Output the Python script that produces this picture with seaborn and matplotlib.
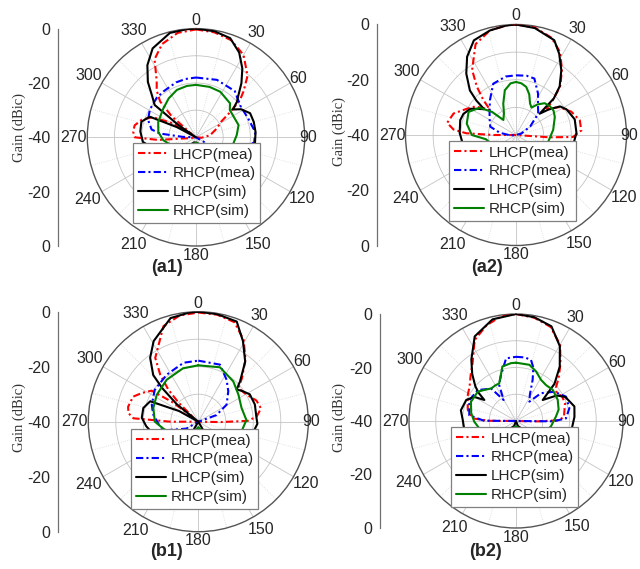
import numpy as np
import matplotlib
matplotlib.use("Agg")
import matplotlib.pyplot as plt
import seaborn as sns
from matplotlib.lines import Line2D

sns.set_style("white")
plt.rcParams["font.family"] = ["Liberation Sans", "DejaVu Sans"]

W, H = 640, 569

series_names = ["LHCP(mea)", "RHCP(mea)", "LHCP(sim)", "RHCP(sim)"]
angle_labels = ["0", "30", "60", "90", "120", "150", "180", "210", "240", "270", "300", "330"]
radial_tick_labels = ["0", "-20", "-40", "-20", "0"]

# ---------------- (a1) ----------------
a1_lhcp_mea_deg = [0, 10, 20, 30, 40, 46, 50, 54, 58, 67, 82, 95, 110, 140, 180, 220, 250, 262, 266, 270, 275, 281, 288, 295, 301, 306, 311, 315, 320, 325, 332, 340, 350, 360]
a1_lhcp_mea_db = [-0.3, -0.8, -2.0, -5.0, -10.5, -15.7, -19.0, -25.0, -29.0, -31.7, -34.8, -38.0, -40, -40, -40, -40, -40, -38, -26, -17.5, -16.8, -17.0, -19.0, -22.5, -30, -38, -28, -21.3, -17.5, -14.8, -7.5, -3.5, -1.0, -0.3]
a1_rhcp_mea_deg = [0, 20, 40, 55, 70, 85, 95, 105, 120, 150, 180, 210, 240, 260, 268, 272, 276, 280, 290, 301, 315, 325, 340, 350, 360]
a1_rhcp_mea_db = [-18.0, -17.5, -17.8, -20.0, -19.6, -18.1, -18.5, -23, -33, -40, -40, -40, -40, -40, -40, -35, -26.6, -23.4, -21.2, -20.2, -19.5, -19.3, -18.5, -18.2, -18.0]
a1_lhcp_sim_deg = [0, 10, 19, 27, 34, 40, 46, 49, 53, 58, 66, 75, 85, 95, 103, 110, 120, 140, 170, 200, 230, 250, 265, 276, 286, 294, 298, 302, 305, 308, 313, 319, 326, 334, 346, 355, 360]
a1_lhcp_sim_db = [0, -0.4, -1.4, -5.0, -9.5, -14, -18.5, -20, -23, -20.5, -18.2, -18.0, -18.0, -18.2, -18.3, -20, -23, -32, -38, -38, -32, -25, -20.4, -19.4, -19.1, -21.4, -32, -40, -32, -20.7, -18, -13, -8, -3.6, -0.4, -0.1, 0]
a1_rhcp_sim_deg = [0, 15, 28, 45, 51, 60, 74, 87, 105, 120, 150, 180, 210, 240, 255, 265, 278, 292, 311, 325, 338, 350, 360]
a1_rhcp_sim_db = [-20.7, -20.8, -21, -22.3, -24, -24.2, -23.7, -25, -26.3, -30, -37, -38, -37, -33, -30, -27.9, -26, -25, -24, -22.5, -21.2, -20.8, -20.7]

# ---------------- (a2) ----------------
a2_lhcp_mea_deg = [0, 10, 20, 28, 35, 42, 47, 50, 53, 57, 67, 77, 86, 92, 94, 97, 110, 150, 200, 250, 266, 270, 272, 275, 280, 289, 298, 305, 310, 314, 317, 321, 326, 336, 346, 355, 360]
a2_lhcp_mea_db = [0, -0.5, -2.5, -6, -11, -16, -22, -26, -24, -21.5, -18.3, -16.3, -16.3, -19.3, -28, -40, -40, -40, -40, -40, -40, -32, -22, -17.3, -14.7, -16.1, -19.8, -22, -25, -27, -22.7, -17.5, -11.6, -4, -1, -0.2, 0]
a2_rhcp_mea_deg = [0, 10, 18, 28, 36, 46, 59, 75, 90, 120, 180, 240, 265, 278, 288, 300, 310, 323, 336, 350, 360]
a2_rhcp_mea_db = [-18.4, -18.2, -18.5, -23, -26.5, -28.8, -34, -38, -40, -40, -40, -40, -38, -34, -30.2, -29, -27.5, -24.3, -19.7, -18.5, -18.4]
a2_lhcp_sim_deg = [0, 10, 22, 28, 35, 42, 46, 48, 52, 57, 63, 75, 88, 100, 110, 125, 150, 180, 210, 235, 250, 260, 272, 285, 292, 300, 305, 309, 311, 314, 321, 328, 336, 346, 355, 360]
a2_lhcp_sim_db = [0, -0.7, -3.0, -6.7, -11.4, -16.4, -21, -28.5, -25, -21, -19.5, -18, -18.1, -19, -21, -26, -33, -36, -33, -26, -22, -20.5, -19.6, -19.1, -19.5, -21, -23.5, -25.2, -21, -16.8, -11.4, -6.6, -2.5, -1, -0.2, 0]
a2_rhcp_sim_deg = [0, 6, 12, 18, 24, 29.5, 35, 42, 50, 57, 65, 82, 102, 120, 150, 180, 210, 240, 255, 262, 270, 283, 296, 307, 314, 320, 326, 331, 338, 346, 354, 360]
a2_rhcp_sim_db = [-20.8, -21.2, -22.2, -24.5, -27.5, -28.6, -26.5, -24.5, -23.9, -23.8, -24.5, -26.4, -28.1, -32, -37, -36, -37, -33, -30, -29, -24, -21.7, -20.9, -23.6, -28, -32.9, -32, -31, -27.7, -23.3, -21.2, -20.8]

# ---------------- (b1) ----------------
b1_lhcp_mea_deg = [0, 10, 20, 29, 37, 45, 50, 60, 70, 78, 85, 89, 91, 93, 120, 180, 240, 266, 270, 273, 277, 282, 291, 297, 303.6, 307, 310, 314, 317, 321, 326, 340, 350, 360]
b1_lhcp_mea_db = [-0.3, -0.5, -1.5, -6, -11.5, -17.5, -21, -20, -17.5, -16.7, -18.7, -22, -32, -40, -40, -40, -40, -40, -30, -16.4, -14.4, -13.9, -14.6, -17, -19.6, -28, -38, -30, -24, -18, -12, -3, -0.8, -0.3]
b1_rhcp_mea_deg = [0, 20.8, 34, 44.7, 59, 70, 85, 100, 150, 200, 240, 255, 262, 272, 279, 290, 306, 326, 346, 360]
b1_rhcp_mea_db = [-17.8, -17.8, -21.6, -24.5, -28, -33, -40, -40, -40, -40, -35, -28, -26, -24.8, -23.4, -22, -20.4, -19.4, -17.9, -17.8]
b1_lhcp_sim_deg = [0, 10, 21, 29, 38, 46, 50, 55, 62, 73, 86, 92, 105, 120, 150, 180, 210, 240, 255, 265, 274, 284, 293, 299, 304, 309, 313, 316, 323, 331, 345, 355, 360]
b1_lhcp_sim_db = [0, -0.3, -1, -6.5, -12.3, -18.9, -21.8, -20.5, -18.8, -18.5, -18.8, -18.5, -20, -24, -35, -40, -35, -27, -23, -21, -19.4, -19.4, -21, -32, -40, -30, -21.9, -16.4, -10.9, -6.5, -1, -0.2, 0]
b1_rhcp_sim_deg = [0, 21.7, 41, 56, 72.5, 88, 105, 120, 150, 180, 210, 240, 259, 270, 287, 303, 323, 344, 360]
b1_rhcp_sim_db = [-19.5, -18.7, -20.6, -22.4, -23.5, -22.5, -24, -28, -35, -38, -35, -30, -27, -24.2, -22.9, -22, -20.9, -19.8, -19.5]

# ---------------- (b2) ----------------
b2_lhcp_mea_deg = [0, 10, 20, 30, 38, 45, 50, 55, 62, 70, 77, 85, 89, 91, 93, 120, 180, 240, 268, 270.5, 273.5, 283, 293.5, 298.5, 306.5, 315, 323, 333, 343, 352, 360]
b2_lhcp_mea_db = [0, -0.8, -2.5, -7, -13, -17.5, -20.5, -21.5, -20.5, -20.5, -21.4, -22, -24, -32, -40, -40, -40, -40, -40, -30, -23.8, -21.5, -20.3, -19.5, -18.4, -16, -13, -6, -2.5, -0.5, 0]
b2_rhcp_mea_deg = [0, 8, 13.8, 18, 22, 28, 34.6, 42, 52.6, 64, 76.6, 87, 90.5, 92, 120, 180, 240, 268, 270.5, 277, 294, 309, 316, 322.6, 329.6, 335, 342, 351, 360]
b2_rhcp_mea_db = [-16, -16, -16.5, -19, -23.4, -29, -31.2, -26, -22, -19.2, -19.5, -21.3, -26, -40, -40, -40, -40, -40, -28, -22.4, -20.9, -21.6, -23.5, -24.7, -30.9, -25, -21.9, -16.3, -16]
b2_lhcp_sim_deg = [0, 10, 20.5, 30.4, 38.8, 46, 51.8, 58, 64, 76, 86, 100, 110, 130, 160, 180, 200, 230, 250, 262, 271, 281, 293, 300, 303.6, 307, 310.5, 317, 324, 334, 347, 360]
b2_lhcp_sim_db = [0, -0.6, -2.2, -7.6, -13.9, -20, -27.3, -22, -19.5, -17.5, -18.1, -19, -22, -30, -38, -40, -38, -30, -24, -20.4, -20.1, -19, -19.8, -22, -25.8, -22.5, -20, -16, -11.6, -4.8, -1, 0]
b2_rhcp_sim_deg = [0, 13.4, 22, 31.4, 40, 49.8, 63, 75, 83.8, 99, 115, 140, 180, 220, 245, 258.7, 269, 280, 293, 307.4, 315, 322.6, 330, 336, 346, 355, 360]
b2_rhcp_sim_db = [-18.2, -18.4, -20, -22, -22.5, -22, -22.5, -23.5, -25, -26.8, -29, -34, -38, -35, -29, -26, -24.4, -23, -21.7, -22, -23.5, -24.7, -24.6, -24.6, -19, -18.3, -18.2]

styles = [
    ("#ff0000", (0, (3.5, 1.5, 1.0, 1.5))),
    ("#0000ff", (0, (3.5, 1.5, 1.0, 1.5))),
    ("#000000", "-"),
    ("#008000", "-"),
]

# distance (px) of each angle label centre beyond the outer circle
label_gap_px = {"0": 8.5, "30": 12.5, "60": 9.5, "90": 3.0, "120": 14, "150": 15, "180": 9,
                "210": 15.5, "240": 16.5, "270": 13.5, "300": 15.5, "330": 15}

panels = [
    dict(tag="(a1)", cx=196, cy=137.3, R=108.7, axx=58, lab=(167.5, 267), ylab=(19, 127), leg=(133, 143),
         curves=[(a1_lhcp_mea_deg, a1_lhcp_mea_db), (a1_rhcp_mea_deg, a1_rhcp_mea_db),
                 (a1_lhcp_sim_deg, a1_lhcp_sim_db), (a1_rhcp_sim_deg, a1_rhcp_sim_db)]),
    dict(tag="(a2)", cx=516, cy=135, R=110.5, axx=377, lab=(486.7, 268), ylab=(339, 132), leg=(449, 141),
         curves=[(a2_lhcp_mea_deg, a2_lhcp_mea_db), (a2_rhcp_mea_deg, a2_rhcp_mea_db),
                 (a2_lhcp_sim_deg, a2_lhcp_sim_db), (a2_rhcp_sim_deg, a2_rhcp_sim_db)]),
    dict(tag="(b1)", cx=198.3, cy=421.7, R=110, axx=58, lab=(166.7, 552), ylab=(19, 418), leg=(131, 429),
         curves=[(b1_lhcp_mea_deg, b1_lhcp_mea_db), (b1_rhcp_mea_deg, b1_rhcp_mea_db),
                 (b1_lhcp_sim_deg, b1_lhcp_sim_db), (b1_rhcp_sim_deg, b1_rhcp_sim_db)]),
    dict(tag="(b2)", cx=516, cy=421, R=107, axx=380, lab=(486, 552), ylab=(339, 418), leg=(451, 427),
         curves=[(b2_lhcp_mea_deg, b2_lhcp_mea_db), (b2_rhcp_mea_deg, b2_rhcp_mea_db),
                 (b2_lhcp_sim_deg, b2_lhcp_sim_db), (b2_rhcp_sim_deg, b2_rhcp_sim_db)]),
]

fig = plt.figure(figsize=(W / 100, H / 100), dpi=100)

for p in panels:
    cx, cy, R = p["cx"], p["cy"], p["R"]
    ax = fig.add_axes([(cx - R) / W, (H - cy - R) / H, 2 * R / W, 2 * R / H], projection="polar")
    ax.set_theta_zero_location("N")
    ax.set_theta_direction(-1)
    ax.set_facecolor("white")

    # minor (15 deg) spokes, dotted
    for a in range(15, 360, 30):
        ax.plot([np.deg2rad(a)] * 2, [-40, 0], color="#d8d8d8", lw=0.6, ls=":", zorder=0.5)

    for (deg, db), (col, ls) in zip(p["curves"], styles):
        th = np.deg2rad(np.asarray(deg, dtype=float))
        r = np.clip(np.asarray(db, dtype=float), -40, 0)
        sns.lineplot(x=th, y=r, ax=ax, sort=False, estimator=None, color=col,
                     linewidth=1.5, linestyle=ls, zorder=3)

    ax.set_ylim(-40, 0)
    ax.set_xticks(np.deg2rad(np.arange(0, 360, 30)))
    ax.set_xticklabels([])
    ax.set_yticks([-30, -20, -10])
    ax.set_yticklabels([])
    ax.set_xlabel("")
    ax.set_ylabel("")
    ax.grid(True, color="#c4c4c4", lw=0.6, ls="-")
    ax.spines["polar"].set_color("#555555")
    ax.spines["polar"].set_linewidth(1.0)

    # angle labels (centred outside the circle)
    for lab in angle_labels:
        t = np.deg2rad(float(lab))
        d = label_gap_px[lab] * 0.72
        ax.annotate(lab, xy=(t, 0), xytext=(d * np.sin(t), d * np.cos(t)), textcoords="offset points",
                    ha="center", va="center", fontsize=11.5, annotation_clip=False)

    # legend
    handles = [Line2D([], [], color=col, lw=1.5, ls=ls) for col, ls in styles]
    lx, ly = p["leg"]
    leg = ax.legend(handles, series_names, loc="upper left", bbox_to_anchor=(lx / W, 1 - ly / H),
                    bbox_transform=fig.transFigure, frameon=True, fancybox=False, framealpha=1,
                    edgecolor="#808080", fontsize=11, handlelength=2.0, handletextpad=0.3,
                    borderpad=0.3, labelspacing=0.32, borderaxespad=0)
    leg.get_frame().set_linewidth(0.9)
    leg.set_zorder(10)

    # left radial axis
    lax = fig.add_axes([p["axx"] / W, (H - cy - R) / H, 0.0001, 2 * R / H])
    lax.patch.set_visible(False)
    for sp in ["top", "right", "bottom"]:
        lax.spines[sp].set_visible(False)
    lax.spines["left"].set_color("#707070")
    lax.spines["left"].set_linewidth(0.9)
    lax.set_xticks([])
    lax.set_ylim(-40, 40)
    lax.set_yticks([-40, -20, 0, 20, 40])
    lax.set_yticklabels(radial_tick_labels[::-1])
    lax.set_yticks([-30, -10, 10, 30], minor=True)
    lax.tick_params(axis="y", which="major", direction="out", length=4, width=0.8,
                    color="#707070", labelsize=11.5, pad=1.5)
    lax.tick_params(axis="y", which="minor", direction="out", length=2, width=0.7, color="#707070")

    fig.text(p["ylab"][0] / W, 1 - p["ylab"][1] / H, "Gain (dBic)", rotation=90,
             family=["Liberation Serif", "DejaVu Serif"], fontsize=10.5, color="#333333",
             ha="center", va="center")
    fig.text(p["lab"][0] / W, 1 - p["lab"][1] / H, p["tag"], fontsize=13, fontweight="bold",
             ha="center", va="center")

fig.savefig("out.png", dpi=100, facecolor="white")
